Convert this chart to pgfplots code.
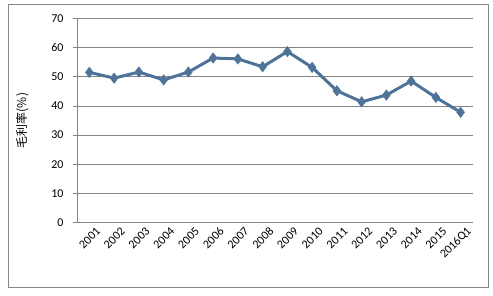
\documentclass[border=0pt]{standalone}
\usepackage{pgfplots}
\pgfplotsset{compat=1.18}
\usepackage{fontspec}
\setmainfont{Carlito}
\newfontfamily\cjk{Noto Sans CJK SC}
\definecolor{series}{RGB}{78,115,152}
\definecolor{gridc}{RGB}{134,134,134}
\definecolor{framec}{RGB}{134,134,134}
\begin{document}
\begin{tikzpicture}[x=1pt,y=1pt]
\path[use as bounding box] (0,0) rectangle (493,295);
\draw[framec, line width=0.9pt] (8,8) rectangle (488,291);
\begin{axis}[
  at={(77pt,72.3pt)}, anchor=south west,
  scale only axis, width=396pt, height=204.4pt,
  xmin=-0.5, xmax=15.5, ymin=0, ymax=70,
  xtick={0,...,15},
  xticklabels={2001,2002,2003,2004,2005,2006,2007,2008,2009,2010,2011,2012,2013,2014,2015,2016Q1},
  ytick={0,10,...,70},
  axis x line*=bottom, axis y line*=left,
  axis line style={gridc, line width=0.8pt, -},
  ymajorgrids, grid style={gridc, line width=0.8pt},
  major tick length=4pt,
  xtick style={draw=none},
  ytick style={gridc, line width=0.8pt},
  ytick align=outside,
  tick label style={font=\fontsize{12}{14}\selectfont, text=black},
  /pgf/number format/assume math mode=true,
  xticklabel style={rotate=45, anchor=east, xshift=5pt, yshift=-11pt},
  yticklabel style={xshift=-6pt},
  ylabel={\cjk 毛利率(\%)},
  ylabel style={font=\fontsize{12}{14}\selectfont, at={(-45pt,0.5)}, anchor=south},
]
\addplot[series, line width=3pt, mark=diamond*, mark size=5.2pt, mark options={fill=series, draw=series, line width=0.5pt}]
coordinates {
(0,51.5) (1,49.5) (2,51.6) (3,48.9) (4,51.6) (5,56.4) (6,56.1) (7,53.4)
(8,58.6) (9,53.2) (10,45.2) (11,41.4) (12,43.7) (13,48.5) (14,42.9) (15,37.8)
};
\end{axis}
\end{tikzpicture}
\end{document}
